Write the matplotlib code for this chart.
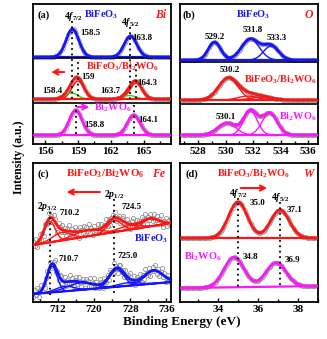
import numpy as np
import matplotlib.pyplot as plt
from matplotlib.ticker import MultipleLocator

plt.rcParams["font.family"] = "Liberation Serif"
plt.rcParams["font.weight"] = "bold"
plt.rcParams["mathtext.fontset"] = "custom"
plt.rcParams["mathtext.rm"] = "Liberation Serif:bold"
plt.rcParams["mathtext.it"] = "Liberation Serif:italic:bold"
plt.rcParams["mathtext.bf"] = "Liberation Serif:bold"
plt.rcParams["mathtext.default"] = "rm"

BLUE = "#1414ff"
RED = "#ff1414"
MAG = "#ff14ff"
GREEN = "#22dd22"
GRAY = "#8a8a8a"

# (a) Bi 4f : peak centres (eV), heights (a.u.), baselines
bi_sigma = 0.58
bi_blue_pos = [158.5, 163.8]
bi_blue_amp = [28, 21]
bi_red_pos = [159.0, 164.3]
bi_red_amp = [18, 16]
bi_green_pos = [158.4, 163.7]
bi_green_amp = [6, 3.5]
bi_mag_pos = [158.8, 164.1]
bi_mag_amp = [25, 20]
bi_base = [87, 45, 9]

# (b) O 1s
o_blue_pos = [529.2, 531.8, 533.3]
o_blue_amp = [18, 21, 14]
o_blue_sig = [0.45, 0.65, 0.55]
o_red_pos = [530.2, 531.6, 532.6]
o_red_amp = [22, 4, 3]
o_red_sig = [0.7, 0.7, 0.8]
o_mag_pos = [530.1, 531.8, 533.2]
o_mag_amp = [12, 24, 22]
o_mag_sig = [0.65, 0.5, 0.55]
o_base = [84, 44, 9]

# (c) Fe 2p
fe_red_pos = [710.2, 712.8, 718.5, 724.5, 727.5, 732.5]
fe_red_amp = [21, 8, 6, 11.5, 4, 7.5]
fe_red_sig = [1.2, 2.0, 3.0, 1.6, 2.5, 1.8]
fe_red_base = [57, 79]
fe_blue_pos = [710.7, 713.5, 717.0, 725.0, 727.5, 733.2]
fe_blue_amp = [26, 5, 7, 17, 3, 13]
fe_blue_sig = [1.1, 2.0, 3.0, 1.6, 2.5, 2.0]
fe_blue_base = [8, 20]
# scatter of the raw points about the fit
fe_red_resid = [3, -2, 5, -4, 1, 6, -3, 2, -5, 4, 0, -3, 6, -1, 2, -4, 5, 3, -2, -6,
                4, 1, -3, 5, -2, 3, -5, 2, 6, -1, -4, 3, 0, 5, -3, 2, -6, 4, 1, -2,
                5, -4, 3, -1, 6, -3, 2, -5, 4, 0, -2, 5, -3, 1, 4, -4, 2, -1, 5, -3,
                3, -5, 1, 4, -2, 6, -3, 0, 3, -4, 2, 5, -1, -3, 4, -2, 1, -5, 3, 6,
                -2, 0, 4, -4, 2, -1, 5, -3, 1, 6, -5, 2, -2, 4, 0, -3, 5, -1, 3, -4,
                2, 6, -2, -5, 1, 4, -3, 2, -1, 5]
fe_blue_resid = [-3, 4, -1, 5, -4, 2, 6, -2, 3, -5, 1, 4, -3, 5, -1, -4, 2, 6, -3, 1,
                 -5, 3, 4, -2, 0, 5, -4, 2, -1, 6, -3, 3, -5, 1, 4, -2, 5, -1, -4, 3,
                 0, -5, 4, 2, -3, 5, -2, 1, 6, -4, 3, -1, -3, 5, 2, -5, 4, 0, -2, 3,
                 -4, 5, 1, -3, 6, -1, 2, -5, 3, 4, -2, 1, -4, 5, -1, 2, -3, 6, 0, -2,
                 4, -5, 3, 1, -1, 5, -4, 2, -3, 6, 1, -2, 4, -5, 0, 3, -1, 5, -3, 2,
                 -4, 1, 6, -2, 3, -5, 0, 4, -1, -3]

# (d) W 4f
w_sigma = 0.47
w_red_pos = [35.0, 37.1]
w_red_amp = [36, 28]
w_mag_pos = [34.8, 36.9]
w_mag_amp = [30, 24]
w_red_base = [64, 64]
w_mag_base = [14, 16]


def gauss(x, c, a, s):
    return a * np.exp(-(x - c) ** 2 / (2 * s ** 2))


def envelope(x, base, pos, amp, sig):
    return base + sum(gauss(x, c, a, s) for c, a, s in zip(pos, amp, sig))


def spectrum(ax, x, base, pos, amp, sig, color, comps=True, points=True,
             extra=None):
    parts = [gauss(x, c, a, s) for c, a, s in zip(pos, amp, sig)]
    extra_parts = []
    if extra:
        extra_parts = [gauss(x, c, a, s) for c, a, s in zip(*extra[:3])]
    env = base + sum(parts) + sum(extra_parts)
    if points:
        ax.plot(x, env, "o", ms=2.6, mfc="none", mec=GRAY, mew=0.5, zorder=1)
    if comps:
        for p in parts:
            ax.plot(x, base + p, color=color, lw=1.0, zorder=2)
        for p in extra_parts:
            ax.plot(x, base + p, color=extra[3], lw=1.0, zorder=2)
    ax.plot(x, base, color=color, lw=1.6, zorder=2)
    ax.plot(x, env, color=color, lw=2.0, zorder=3)


def dotted(ax, x, y0, y1):
    ax.plot([x, x], [y0, y1], color="k", ls=(0, (1, 2)), lw=1.3, zorder=4)


def style(ax, xlim, ylim, major, minor):
    ax.set_xlim(*xlim)
    ax.set_ylim(*ylim)
    ax.set_yticks([])
    ax.xaxis.set_major_locator(MultipleLocator(major))
    ax.xaxis.set_minor_locator(MultipleLocator(minor))
    ax.tick_params(axis="x", which="major", direction="in", length=3,
                   width=1, labelsize=8, pad=2)
    ax.tick_params(axis="x", which="minor", direction="in", length=2, width=1)
    for sp in ax.spines.values():
        sp.set_linewidth(1.3)


def arrow(ax, start, end, color):
    ax.annotate("", xy=end, xytext=start,
                arrowprops=dict(arrowstyle="->", color=color, lw=1.5,
                                mutation_scale=9), zorder=5)


fig = plt.figure(figsize=(3.27, 3.39), dpi=100)
ax_a = fig.add_axes([0.101, 0.575, 0.422, 0.413])
ax_b = fig.add_axes([0.5505, 0.575, 0.422, 0.413])
ax_c = fig.add_axes([0.101, 0.109, 0.422, 0.410])
ax_d = fig.add_axes([0.5505, 0.109, 0.422, 0.410])

lab = dict(fontsize=6.5, fontweight="bold")
big = dict(fontsize=7.5, fontweight="bold")
ele = dict(fontsize=8.5, fontweight="bold", style="italic", color=RED,
           ha="center", va="center")
orb = dict(fontsize=7, ha="center", va="center")

# ---------- (a) Bi 4f
ax = ax_a
x = np.arange(155.0, 167.5, 0.12)
sig2 = [bi_sigma, bi_sigma]
spectrum(ax, x, np.full_like(x, bi_base[0]), bi_blue_pos, bi_blue_amp, sig2,
         BLUE, comps=False)
spectrum(ax, x, np.full_like(x, bi_base[1]), bi_red_pos, bi_red_amp,
         [0.55, 0.55], RED,
         extra=(bi_green_pos, bi_green_amp, [0.6, 0.6], GREEN))
spectrum(ax, x, np.full_like(x, bi_base[2]), bi_mag_pos, bi_mag_amp, sig2,
         MAG, comps=False)
ax.axhline(86, color="k", lw=1.2)
ax.axhline(41, color="k", lw=1.2)
style(ax, (154.9, 167.5), (0, 140), 3, 1.5)
dotted(ax, bi_blue_pos[0], 123, 45)
dotted(ax, bi_blue_pos[1], 117, 45)
dotted(ax, bi_red_pos[0], 82, 45)
dotted(ax, bi_red_pos[1], 80, 45)
dotted(ax, bi_mag_pos[0], 39, 9)
dotted(ax, bi_mag_pos[1], 39, 9)
ax.text(155.3, 129, "(a)", ha="left", va="center", **big)
ax.text(158.55, 128, r"$4\mathit{f}_{\mathit{7/2}}$", **orb)
ax.text(161.1, 129, r"BiFeO$_3$", color=BLUE, ha="center", va="center", **big)
ax.text(166.55, 129, "Bi", **ele)
ax.text(163.8, 122, r"$4\mathit{f}_{\mathit{5/2}}$", **orb)
ax.text(159.2, 111, "158.5", ha="left", va="center", **lab)
ax.text(164.0, 106, "163.8", ha="left", va="center", **lab)
ax.text(163.1, 77, r"BiFeO$_3$/Bi$_2$WO$_6$", color=RED, ha="center",
        va="center", **big)
arrow(ax, (158.0, 72), (156.3, 72), RED)
ax.text(159.3, 67, "159", ha="left", va="center", **lab)
ax.text(164.4, 61, "164.3", ha="left", va="center", **lab)
ax.text(157.6, 53, "158.4", ha="right", va="center", **lab)
ax.text(162.85, 53, "163.7", ha="right", va="center", **lab)
arrow(ax, (158.7, 37), (160.3, 37), MAG)
ax.text(160.5, 36, r"Bi$_2$WO$_6$", color=MAG, ha="left", va="center", **big)
ax.text(159.6, 19, "158.8", ha="left", va="center", **lab)
ax.text(164.5, 24, "164.1", ha="left", va="center", **lab)

# ---------- (b) O 1s
ax = ax_b
x = np.arange(526.8, 536.7, 0.09)
spectrum(ax, x, np.full_like(x, o_base[0]), o_blue_pos, o_blue_amp,
         o_blue_sig, BLUE)
spectrum(ax, x, np.full_like(x, o_base[1]), o_red_pos, o_red_amp,
         o_red_sig, RED)
spectrum(ax, x, np.full_like(x, o_base[2]), o_mag_pos, o_mag_amp,
         o_mag_sig, MAG)
ax.axhline(82, color="k", lw=1.2)
ax.axhline(40, color="k", lw=1.2)
style(ax, (526.7, 536.7), (0, 140), 2, 1)
ax.text(526.9, 129, "(b)", ha="left", va="center", **big)
ax.text(532.0, 129, r"BiFeO$_3$", color=BLUE, ha="center", va="center", **big)
ax.text(536.0, 129, "O", **ele)
ax.text(529.2, 107, "529.2", ha="center", va="center", **lab)
ax.text(532.0, 114, "531.8", ha="center", va="center", **lab)
ax.text(533.7, 106, "533.3", ha="center", va="center", **lab)
ax.text(530.3, 74, "530.2", ha="center", va="center", **lab)
ax.text(534.0, 64, r"BiFeO$_3$/Bi$_2$WO$_6$", color=RED, ha="center",
        va="center", **big)
ax.text(530.0, 27, "530.1", ha="center", va="center", **lab)
ax.text(535.25, 27, r"Bi$_2$WO$_6$", color=MAG, ha="center", va="center",
        **big)

# ---------- (c) Fe 2p
ax = ax_c
xf = np.linspace(706.5, 737.0, 300)
for resid, bse, pos, amp, sig, col in [
        (fe_red_resid, fe_red_base, fe_red_pos, fe_red_amp, fe_red_sig, RED),
        (fe_blue_resid, fe_blue_base, fe_blue_pos, fe_blue_amp, fe_blue_sig,
         BLUE)]:
    xs = np.linspace(706.6, 736.9, len(resid))
    env_pts = envelope(xs, np.interp(xs, [706.5, 737.0], bse), pos, amp, sig)
    ax.plot(xs, env_pts + np.array(resid), "o", ms=3, mfc="none", mec=GRAY,
            mew=0.55, zorder=1)
    spectrum(ax, xf, np.interp(xf, [706.5, 737.0], bse), pos, amp, sig, col,
             points=False)
style(ax, (706.5, 737.0), (0, 139), 8, 4)
dotted(ax, 710.2, 90, 5)
dotted(ax, 724.5, 103, 8)
ax.text(707.4, 128, "(c)", ha="left", va="center", **big)
ax.text(722.5, 128, r"BiFeO$_3$/Bi$_2$WO$_6$", color=RED, ha="center",
        va="center", fontsize=8, fontweight="bold")
ax.text(734.3, 128, "Fe", **ele)
arrow(ax, (721.9, 110), (713.3, 110), RED)
ax.text(709.6, 96, r"$2\mathit{p}_{\mathit{3/2}}$", **orb)
ax.text(712.3, 89, "710.2", ha="left", va="center", **lab)
ax.text(724.5, 108, r"$2\mathit{p}_{\mathit{1/2}}$", **orb)
ax.text(726.0, 95, "724.5", ha="left", va="center", **lab)
ax.text(732.6, 63, r"BiFeO$_3$", color=BLUE, ha="center", va="center", **big)
ax.text(712.2, 43, "710.7", ha="left", va="center", **lab)
ax.text(725.1, 46, "725.0", ha="left", va="center", **lab)

# ---------- (d) W 4f
ax = ax_d
x = np.arange(32.15, 39.0, 0.06)
spectrum(ax, x, np.interp(x, [32.1, 39.0], w_red_base), w_red_pos, w_red_amp,
         [w_sigma, w_sigma], RED, comps=False)
spectrum(ax, x, np.interp(x, [32.1, 39.0], w_mag_base), w_mag_pos, w_mag_amp,
         [0.5, 0.5], MAG, comps=False)
style(ax, (32.1, 39.0), (0, 139), 2, 1)
dotted(ax, 35.0, 104, 14)
dotted(ax, 37.1, 100, 15)
ax.text(32.35, 128, "(d)", ha="left", va="center", **big)
ax.text(35.8, 128, r"BiFeO$_3$/Bi$_2$WO$_6$", color=RED, ha="center",
        va="center", **big)
ax.text(38.5, 128, "W", **ele)
arrow(ax, (35.0, 114), (36.6, 114), RED)
ax.text(35.0, 109, r"$4\mathit{f}_{\mathit{7/2}}$", **orb)
ax.text(35.6, 99, "35.0", ha="left", va="center", **lab)
ax.text(37.1, 105, r"$4\mathit{f}_{\mathit{5/2}}$", **orb)
ax.text(37.45, 92, "37.1", ha="left", va="center", **lab)
ax.text(33.25, 45, r"Bi$_2$WO$_6$", color=MAG, ha="center", va="center", **big)
ax.text(35.25, 45, "34.8", ha="left", va="center", **lab)
ax.text(37.35, 42, "36.9", ha="left", va="center", **lab)

fig.text(0.557, 0.050, "Binding Energy (eV)", ha="center", va="center",
         fontsize=9.5, fontweight="bold")
fig.text(0.058, 0.537, "Intensity (a.u.)", ha="center", va="center",
         rotation=90, fontsize=8.5, fontweight="bold")

fig.savefig("out.png", dpi=100)
